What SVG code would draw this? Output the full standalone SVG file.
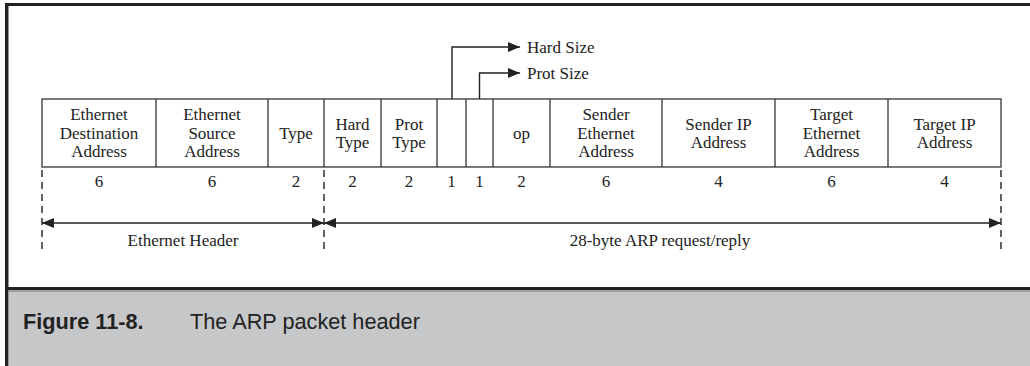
<svg xmlns="http://www.w3.org/2000/svg" width="1030" height="366" viewBox="0 0 1030 366">
  <defs>
    <style>
      .t { font-family: "Liberation Serif", "Times New Roman", serif; font-size: 17px; fill: #222; text-anchor: middle; }
      .lbl { font-family: "Liberation Serif", "Times New Roman", serif; font-size: 17px; fill: #222; }
      .cell { fill: none; stroke: #333; stroke-width: 1.3; }
      .conn { fill: none; stroke: #222; stroke-width: 1.4; }
      .dash { fill: none; stroke: #222; stroke-width: 1.4; stroke-dasharray: 7 5; }
      .cap { font-family: "Liberation Sans", Arial, sans-serif; font-size: 21.7px; fill: #222; }
    </style>
    <marker id="ah" viewBox="0 0 12 10" refX="12" refY="5" markerWidth="12" markerHeight="10" markerUnits="userSpaceOnUse" orient="auto-start-reverse">
      <path d="M0,0 L12,5 L0,10 z" fill="#222"/>
    </marker>
  </defs>

  <rect x="0" y="0" width="1030" height="366" fill="#fff"/>

  <!-- frame and caption -->
  <g id="frame">
    <rect x="6" y="290" width="1024" height="76" fill="#c6c7c9"/>
    <line x1="5" y1="4.5" x2="1030" y2="4.5" stroke="#222" stroke-width="3"/>
    <line x1="6.5" y1="3" x2="6.5" y2="366" stroke="#222" stroke-width="3"/>
    <line x1="8.5" y1="6" x2="8.5" y2="366" stroke="#999" stroke-width="1"/>
    <line x1="5" y1="288.5" x2="1030" y2="288.5" stroke="#222" stroke-width="3"/>
    <line x1="8" y1="291" x2="1030" y2="291" stroke="#777" stroke-width="1"/>
  </g>
  <g id="caption">
    <text class="cap" x="23" y="329" font-weight="bold" font-size="22">Figure 11-8.</text>
    <text class="cap" x="190" y="329">The ARP packet header</text>
  </g>

  <!-- table outline -->
  <g id="table">
    <rect class="cell" x="42" y="99" width="959" height="68"/>
  </g>

  <g id="eth-dst">
    <line class="cell" x1="156" y1="99" x2="156" y2="167"/>
    <text class="t" x="99" y="120">Ethernet</text>
    <text class="t" x="99" y="138.5">Destination</text>
    <text class="t" x="99" y="157">Address</text>
    <text class="t" x="99" y="187">6</text>
  </g>
  <g id="eth-src">
    <line class="cell" x1="268" y1="99" x2="268" y2="167"/>
    <text class="t" x="212" y="120">Ethernet</text>
    <text class="t" x="212" y="138.5">Source</text>
    <text class="t" x="212" y="157">Address</text>
    <text class="t" x="212" y="187">6</text>
  </g>
  <g id="eth-type">
    <line class="cell" x1="324" y1="99" x2="324" y2="167"/>
    <text class="t" x="296" y="138.5">Type</text>
    <text class="t" x="296" y="187">2</text>
  </g>
  <g id="hard-type">
    <line class="cell" x1="381" y1="99" x2="381" y2="167"/>
    <text class="t" x="352.5" y="129.5">Hard</text>
    <text class="t" x="352.5" y="148">Type</text>
    <text class="t" x="352.5" y="187">2</text>
  </g>
  <g id="prot-type">
    <line class="cell" x1="437" y1="99" x2="437" y2="167"/>
    <text class="t" x="409" y="129.5">Prot</text>
    <text class="t" x="409" y="148">Type</text>
    <text class="t" x="409" y="187">2</text>
  </g>
  <g id="hard-size">
    <line class="cell" x1="466" y1="99" x2="466" y2="167"/>
    <text class="t" x="451.5" y="187">1</text>
  </g>
  <g id="prot-size">
    <line class="cell" x1="493" y1="99" x2="493" y2="167"/>
    <text class="t" x="479.5" y="187">1</text>
  </g>
  <g id="op">
    <line class="cell" x1="550" y1="99" x2="550" y2="167"/>
    <text class="t" x="521.5" y="138.5">op</text>
    <text class="t" x="521.5" y="187">2</text>
  </g>
  <g id="sender-eth">
    <line class="cell" x1="662" y1="99" x2="662" y2="167"/>
    <text class="t" x="606" y="120">Sender</text>
    <text class="t" x="606" y="138.5">Ethernet</text>
    <text class="t" x="606" y="157">Address</text>
    <text class="t" x="606" y="187">6</text>
  </g>
  <g id="sender-ip">
    <line class="cell" x1="775" y1="99" x2="775" y2="167"/>
    <text class="t" x="718.5" y="129.5">Sender IP</text>
    <text class="t" x="718.5" y="148">Address</text>
    <text class="t" x="718.5" y="187">4</text>
  </g>
  <g id="target-eth">
    <line class="cell" x1="888" y1="99" x2="888" y2="167"/>
    <text class="t" x="831.5" y="120">Target</text>
    <text class="t" x="831.5" y="138.5">Ethernet</text>
    <text class="t" x="831.5" y="157">Address</text>
    <text class="t" x="831.5" y="187">6</text>
  </g>
  <g id="target-ip">
    <text class="t" x="944.5" y="129.5">Target IP</text>
    <text class="t" x="944.5" y="148">Address</text>
    <text class="t" x="944.5" y="187">4</text>
  </g>

  <g id="hard-size-label">
    <text class="lbl" x="527" y="52.5">Hard Size</text>
  </g>
  <g id="prot-size-label">
    <text class="lbl" x="527" y="78.5">Prot Size</text>
  </g>
  <g id="ethernet-header-label">
    <text class="t" x="183" y="246">Ethernet Header</text>
  </g>
  <g id="arp-label">
    <text class="t" x="660" y="246">28-byte ARP request/reply</text>
  </g>

  <!-- connectors -->
  <g id="connectors">
    <path class="conn" d="M452,99 V47 H520" marker-end="url(#ah)"/>
    <path class="conn" d="M479.5,99 V73 H520" marker-end="url(#ah)"/>
    <line class="dash" x1="42" y1="170" x2="42" y2="251"/>
    <line class="dash" x1="324" y1="170" x2="324" y2="251"/>
    <line class="dash" x1="1001" y1="170" x2="1001" y2="251"/>
    <line class="conn" x1="42" y1="223" x2="324" y2="223" marker-start="url(#ah)" marker-end="url(#ah)"/>
    <line class="conn" x1="324" y1="223" x2="1001" y2="223" marker-start="url(#ah)" marker-end="url(#ah)"/>
  </g>
</svg>
